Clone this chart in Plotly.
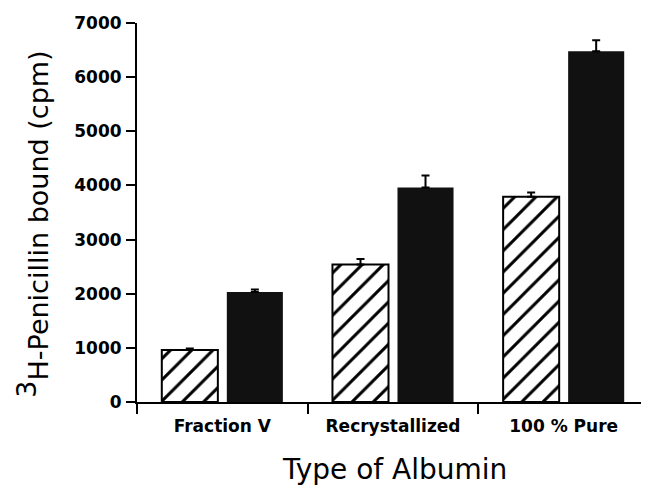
import plotly.graph_objects as go

categories = ["Fraction V", "Recrystallized", "100 % Pure"]
hatched_values = [960, 2540, 3790]
hatched_errors = [30, 100, 80]
black_values = [2030, 3960, 6480]
black_errors = [50, 225, 200]
y_ticks = [0, 1000, 2000, 3000, 4000, 5000, 6000, 7000]

FONT = "DejaVu Sans"

fig = go.Figure()
fig.add_trace(go.Bar(
    x=categories, y=hatched_values,
    marker=dict(color="white",
                line=dict(color="black", width=2),
                pattern=dict(shape="/", fgcolor="black", bgcolor="white",
                             fgopacity=1, size=15, solidity=0.2)),
    error_y=dict(type="data", array=hatched_errors,
                 arrayminus=[0] * len(hatched_errors), symmetric=False,
                 color="black", thickness=2, width=4),
    showlegend=False,
))
fig.add_trace(go.Bar(
    x=categories, y=black_values,
    marker=dict(color="#111111", line=dict(color="#111111", width=0)),
    error_y=dict(type="data", array=black_errors,
                 arrayminus=[0] * len(black_errors), symmetric=False,
                 color="black", thickness=2, width=4),
    showlegend=False,
))

fig.update_layout(
    width=641, height=478,
    margin=dict(l=129, r=0, t=15, b=84, autoexpand=False),
    paper_bgcolor="white", plot_bgcolor="white",
    barmode="group", bargap=0.238, bargroupgap=0.138,
    font=dict(family=FONT, color="black"),
    xaxis=dict(
        type="category", range=[-0.5, 2.5], automargin=False,
        tickson="boundaries", ticks="outside", ticklen=10, tickwidth=2,
        tickcolor="black",
        showline=True, linecolor="black", linewidth=2,
        showgrid=False, zeroline=False,
        tickfont=dict(family=FONT, size=17, weight="bold", color="black"),
        ticklabelstandoff=8,
    ),
    yaxis=dict(
        range=[0, 7000], tickvals=y_ticks, automargin=False,
        ticks="outside", ticklen=9, tickwidth=2, tickcolor="black",
        showline=True, linecolor="black", linewidth=2,
        showgrid=False, zeroline=False,
        tickfont=dict(family=FONT, size=17, weight="bold", color="black"),
        ticklabelstandoff=1,
    ),
    annotations=[
        dict(text="Type of Albumin", xref="paper", yref="paper",
             x=0.502, y=-0.179, xanchor="center", yanchor="middle",
             showarrow=False, font=dict(family=FONT, size=28, color="black")),
        dict(text='<sup><span style="font-size:27px">3</span></sup>H-Penicillin bound (cpm)',
             xref="paper", yref="paper", textangle=-90,
             x=-0.205, y=0.468, xanchor="center", yanchor="middle",
             showarrow=False, font=dict(family=FONT, size=27, color="black")),
    ],
)

fig.write_html("out.html")
